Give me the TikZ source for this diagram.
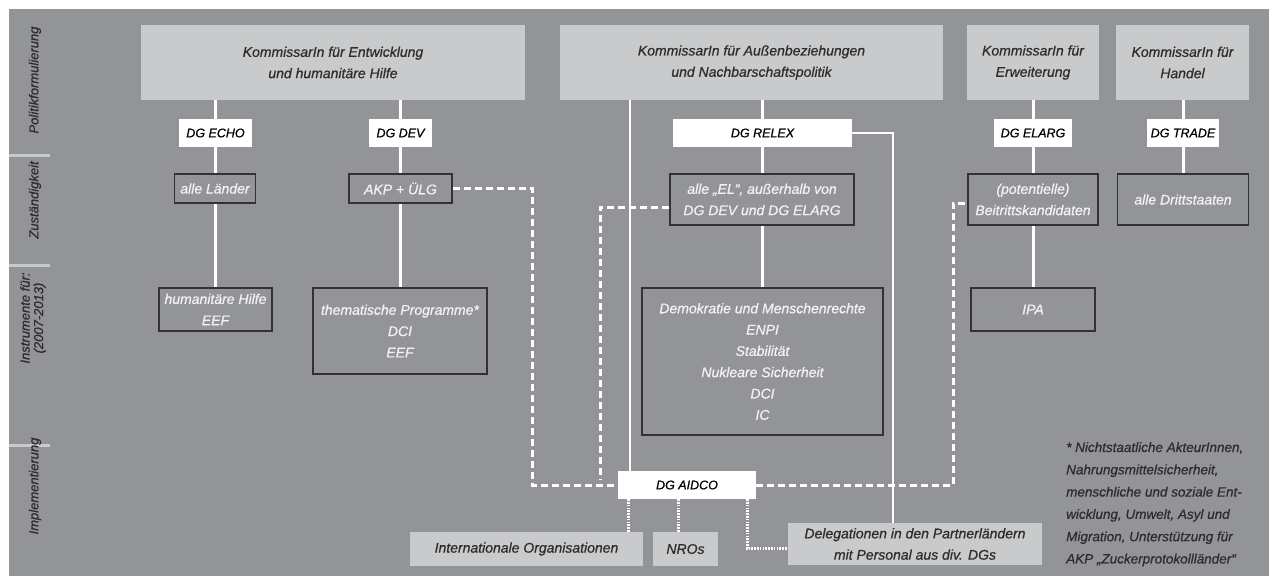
\documentclass[tikz,border=0pt]{standalone}
\usepackage{fontspec}
\setmainfont{Liberation Sans}[ItalicFeatures={FakeBold=0.7}]
\usetikzlibrary{calc}
\definecolor{bg}{RGB}{147,148,152}
\definecolor{lightbox}{RGB}{201,202,204}
\definecolor{darktxt}{RGB}{45,45,45}
\definecolor{edge}{RGB}{50,50,50}
\definecolor{paletxt}{RGB}{242,242,242}
\tikzset{
  base/.style={inner sep=0pt, align=center, font=\fontsize{14}{21.3}\selectfont\itshape},
  kom/.style={base, fill=lightbox, text=darktxt},
  dgbox/.style={base, fill=white, text=black, font=\fontsize{12.5}{15}\selectfont\itshape},
  darkbox/.style={base, draw=edge, line width=1.3pt, text=paletxt},
  lightlow/.style={base, fill=lightbox, text=darktxt},
  conn/.style={white, line width=3pt},
  thinconn/.style={white, line width=2.5pt},
  dashconn/.style={white, line width=3pt, dash pattern=on 7pt off 4pt},
  dotconn/.style={white, line width=3pt, dash pattern=on 1.5pt off 1.3pt},
  rowlabel/.style={base, rotate=90, text=darktxt, font=\fontsize{13}{13.5}\selectfont\itshape},
  sep/.style={lightbox, line width=3pt}
}
\begin{document}
\begin{tikzpicture}[x=1pt,y=-1pt]
\useasboundingbox (0,0) rectangle (1269,576);
\fill[bg] (9,9) rectangle (1269,576);
% row separators
\draw[sep] (9,155) -- (50,155);
\draw[sep] (9,265) -- (50,265);
\draw[sep] (9,445) -- (50,445);
% row labels
\node[rowlabel] (lab1) at (35,80) {Politikformulierung};
\node[rowlabel] (lab2) at (35,200) {Zuständigkeit};
\node[rowlabel] (lab3) at (33,318) {Instrumente für:\\(2007-2013)};
\node[rowlabel] (lab4) at (35,486) {Implementierung};
% commissioners
\node[kom, minimum width=384pt, minimum height=75pt] (K1) at (333,62.5) {KommissarIn für Entwicklung\\und humanitäre Hilfe};
\node[kom, minimum width=383pt, minimum height=75pt] (K2) at (751.5,62.5) {KommissarIn für Außenbeziehungen\\und Nachbarschaftspolitik};
\node[kom, minimum width=132pt, minimum height=75pt] (K3) at (1033,62.5) {KommissarIn für\\Erweiterung};
\node[kom, minimum width=133pt, minimum height=75pt] (K4) at (1182.5,62.5) {KommissarIn für\\Handel};
% DGs
\node[dgbox, minimum width=73pt, minimum height=28pt] (ECHO) at (215.5,133) {DG ECHO};
\node[dgbox, minimum width=63pt, minimum height=28pt] (DEV) at (400.5,133) {DG DEV};
\node[dgbox, minimum width=179pt, minimum height=28pt] (RELEX) at (762.5,133) {DG RELEX};
\node[dgbox, minimum width=78pt, minimum height=28pt] (ELARG) at (1033,133) {DG ELARG};
\node[dgbox, minimum width=72pt, minimum height=28pt] (TRADE) at (1183,133) {DG TRADE};
% competence
\node[darkbox, minimum width=81pt, minimum height=29pt] (LAE) at (215,188.5) {alle Länder};
\node[darkbox, minimum width=103pt, minimum height=29pt] (AKP) at (400.5,188.5) {AKP + ÜLG};
\node[darkbox, minimum width=184pt, minimum height=51pt] (EL) at (762,199.5) {alle „EL“, außerhalb von\\DG DEV und DG ELARG};
\node[darkbox, minimum width=130pt, minimum height=51pt] (BEI) at (1033,199.5) {(potentielle)\\Beitrittskandidaten};
\node[darkbox, minimum width=131pt, minimum height=51pt] (DRI) at (1183,199.5) {alle Drittstaaten};
% instruments
\node[darkbox, minimum width=113pt, minimum height=43pt] (HUM) at (215.5,309.5) {humanitäre Hilfe\\EEF};
\node[darkbox, minimum width=174pt, minimum height=86pt] (THE) at (400,331) {thematische Programme*\\DCI\\EEF};
\node[darkbox, minimum width=241pt, minimum height=147pt] (DEM) at (762.5,361.5) {Demokratie und Menschenrechte\\ENPI\\Stabilität\\Nukleare Sicherheit\\DCI\\IC};
\node[darkbox, minimum width=124pt, minimum height=43pt] (IPA) at (1033,309.5) {IPA};
% implementation
\node[dgbox, minimum width=138pt, minimum height=28pt] (AIDCO) at (687,485) {DG AIDCO};
\node[lightlow, minimum width=233pt, minimum height=34pt] (INT) at (526.5,549) {Internationale Organisationen};
\node[lightlow, minimum width=65pt, minimum height=34pt] (NRO) at (685.5,549) {NROs};
\node[lightlow, minimum width=254pt, minimum height=42pt] (DEL) at (915,544) {Delegationen in den Partnerländern\\mit Personal aus div. DGs};
% footnote
\node[base, anchor=north west, align=left, text=darktxt, font=\fontsize{13.5}{22.3}\selectfont\itshape] (FN) at (1066,442) {* Nichtstaatliche AkteurInnen,\\Nahrungsmittelsicherheit,\\menschliche und soziale Ent-\\wicklung, Umwelt, Asyl und\\Migration, Unterstützung für\\AKP „Zuckerprotokollländer“};
% helper coordinates
\coordinate (xK2) at (630,0);
\coordinate (xRel) at (893,0);
\coordinate (xD1) at (532,0);
\coordinate (xD2) at (600,0);
\coordinate (xD3) at (953,0);
\coordinate (xP1) at (628,0);
\coordinate (xP2) at (678,0);
\coordinate (xP3) at (747,0);
% solid connectors
\draw[conn] (K1.south -| ECHO) -- (ECHO.north);
\draw[conn] (ECHO.south) -- (LAE.north -| ECHO);
\draw[conn] (LAE.south -| ECHO) -- (HUM.north -| ECHO);
\draw[conn] (K1.south -| DEV) -- (DEV.north);
\draw[conn] (DEV.south) -- (AKP.north -| DEV);
\draw[conn] (AKP.south -| DEV) -- (THE.north -| DEV);
\draw[conn] (K2.south -| RELEX) -- (RELEX.north);
\draw[conn] (RELEX.south) -- (EL.north -| RELEX);
\draw[conn] (EL.south -| RELEX) -- (DEM.north -| RELEX);
\draw[conn] (K3.south) -- (ELARG.north);
\draw[conn] (ELARG.south) -- (BEI.north);
\draw[conn] (BEI.south) -- (IPA.north);
\draw[conn] (K4.south -| TRADE) -- (TRADE.north);
\draw[conn] (TRADE.south) -- (DRI.north -| TRADE);
\draw[thinconn] (K2.south -| xK2) -- (AIDCO.north -| xK2);
\draw[thinconn] (RELEX.east) -| (DEL.north -| xRel);
% dashed connectors
\draw[dashconn] (AKP.east) -| (AIDCO.west -| xD1) -- (AIDCO.west);
\draw[dashconn] ($(EL.west)+(0,8)$) -| ($(AIDCO.west -| xD2)+(0,-5)$);
\draw[dashconn] (AIDCO.east) -| ($(BEI.west -| xD3)+(0,3.5)$) -- ($(BEI.west)+(0,3.5)$);
% dotted connectors
\draw[dotconn] (AIDCO.south -| xP1) -- (INT.north -| xP1);
\draw[dotconn] (AIDCO.south -| xP2) -- (NRO.north -| xP2);
\draw[dotconn] (AIDCO.south -| xP3) |- ($(DEL.west)+(0,4)$);
\end{tikzpicture}
\end{document}
